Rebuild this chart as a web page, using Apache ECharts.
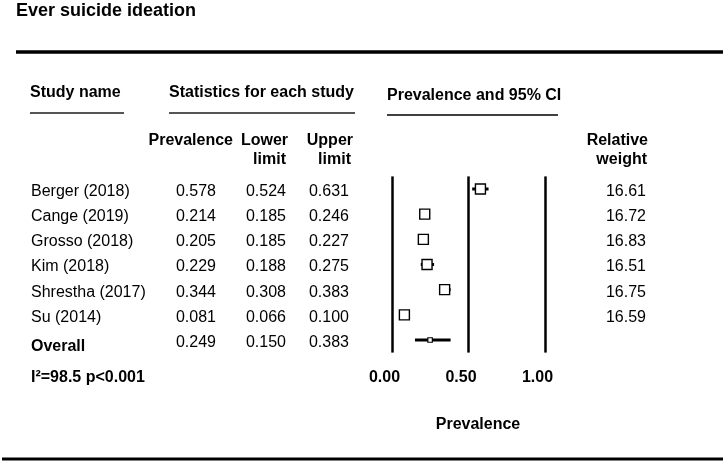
<!DOCTYPE html>
<html>
<head>
<meta charset="utf-8">
<script src="https://cdn.jsdelivr.net/npm/echarts@6/dist/echarts.min.js"></script>
<style>
html,body{margin:0;padding:0;background:#fff;}
#chart{width:723px;height:461px;}
</style>
</head>
<body>
<div id="chart"></div>
<script>
// ---- data ----
var studies = ['Berger (2018)', 'Cange (2019)', 'Grosso (2018)', 'Kim (2018)', 'Shrestha (2017)', 'Su (2014)', 'Overall'];
var prevalence = [0.578, 0.214, 0.205, 0.229, 0.344, 0.081, 0.249];
var lowerLimit = [0.524, 0.185, 0.185, 0.188, 0.308, 0.066, 0.150];
var upperLimit = [0.631, 0.246, 0.227, 0.275, 0.383, 0.100, 0.383];
var relWeight = ['16.61', '16.72', '16.83', '16.51', '16.75', '16.59', ''];
var xTicks = [0, 0.5, 1];
var heterogeneity = 'I\u00B2=98.5 p<0.001';

var FONT = 'Liberation Sans, Arial, Helvetica, sans-serif';
var chart = echarts.init(document.getElementById('chart'), null, {renderer: 'canvas'});

var GL = 392, GR = 545, GT = 176.4, GH = 176.2;
var W = 723;

function fmt3(v){ return v.toFixed(3); }

function colAxis(values, position, offset, align, boldLast) {
  return {
    type: 'category',
    data: studies,
    inverse: true,
    position: position,
    offset: offset,
    axisLine: {show: false},
    axisTick: {show: false},
    splitLine: {show: false},
    axisLabel: {
      margin: 0,
      align: align,
      padding: [5, 0, 0, 0],
      fontFamily: FONT,
      fontSize: 16,
      color: '#000',
      formatter: function (v, i) {
        var s = values[i];
        if (boldLast && i === studies.length - 1) return '{b|' + s + '}';
        return s;
      },
      rich: {
        b: {fontWeight: 'bold', fontFamily: FONT, fontSize: 16, color: '#000', padding: [9, 0, 0, 0]}
      }
    }
  };
}

var option = {
  animation: false,
  backgroundColor: '#fff',
  grid: {left: GL, top: GT, width: GR - GL, height: GH, containLabel: false},
  xAxis: {
    type: 'value',
    min: 0, max: 1, interval: 0.5,
    axisLine: {show: false},
    axisTick: {show: false},
    splitLine: {show: true, lineStyle: {color: '#000', width: 2.5}},
    axisLabel: {
      margin: 17,
      fontFamily: FONT, fontSize: 16, fontWeight: 'bold', color: '#000',
      padding: [0, 15, 0, 0],
      formatter: function (v) { return v.toFixed(2); }
    },
    name: 'Prevalence',
    nameLocation: 'middle',
    nameGap: 64,
    nameTextStyle: {fontFamily: FONT, fontSize: 16, fontWeight: 'bold', color: '#000', padding: [0, 0, 0, 19]}
  },
  yAxis: [
    {
      type: 'category', data: studies, inverse: true,
      axisLine: {show: false}, axisTick: {show: false}, axisLabel: {show: false}, splitLine: {show: false}
    },
    colAxis(studies, 'left', GL - 31, 'left', true),
    colAxis(prevalence.map(fmt3), 'left', GL - 216, 'right', false),
    colAxis(lowerLimit.map(fmt3), 'left', GL - 286, 'right', false),
    colAxis(upperLimit.map(fmt3), 'left', GL - 349, 'right', false),
    colAxis(relWeight, 'right', 646 - GR, 'right', false)
  ],
  series: [{
    type: 'custom',
    xAxisIndex: 0,
    yAxisIndex: 0,
    data: studies.map(function (s, i) { return [prevalence[i], lowerLimit[i], upperLimit[i], i]; }),
    encode: {x: [0, 1, 2], y: 3},
    renderItem: function (params, api) {
      var i = api.value(3);
      var c = api.coord([api.value(0), i]);
      var lo = api.coord([api.value(1), i]);
      var hi = api.coord([api.value(2), i]);
      var isOverall = (i === studies.length - 1);
      var sz = isOverall ? 4.5 : 10;
      return {
        type: 'group',
        children: [
          {type: 'line', shape: {x1: lo[0], y1: c[1], x2: hi[0], y2: c[1]},
           style: {stroke: '#000', lineWidth: 3}},
          {type: 'rect', shape: {x: c[0] - sz / 2, y: c[1] - sz / 2, width: sz, height: sz},
           style: {fill: '#fff', stroke: '#000', lineWidth: isOverall ? 1.2 : 1.4}}
        ]
      };
    }
  }],
  graphic: [
    {type: 'text', left: 16, top: 2, style: {text: 'Ever suicide ideation', font: 'bold 18px ' + FONT, fill: '#000'}},
    {type: 'line', shape: {x1: 16, y1: 52, x2: W, y2: 52}, style: {stroke: '#000', lineWidth: 3.5}},
    {type: 'text', left: 30, top: 85, style: {text: 'Study name', font: 'bold 16px ' + FONT, fill: '#000'}},
    {type: 'line', shape: {x1: 30, y1: 113, x2: 124, y2: 113}, style: {stroke: '#555', lineWidth: 2}},
    {type: 'text', left: 169, top: 85, style: {text: 'Statistics for each study', font: 'bold 16px ' + FONT, fill: '#000'}},
    {type: 'line', shape: {x1: 169, y1: 113, x2: 355, y2: 113}, style: {stroke: '#555', lineWidth: 2}},
    {type: 'text', left: 387, top: 88, style: {text: 'Prevalence and 95% CI', font: 'bold 16px ' + FONT, fill: '#000'}},
    {type: 'line', shape: {x1: 387, y1: 115, x2: 558, y2: 115}, style: {stroke: '#000', lineWidth: 1.5}},
    {type: 'text', x: 233, y: 141, style: {text: 'Prevalence', font: 'bold 16px ' + FONT, fill: '#000', align: 'right', verticalAlign: 'middle'}},
    {type: 'text', x: 288, y: 141, style: {text: 'Lower', font: 'bold 16px ' + FONT, fill: '#000', align: 'right', verticalAlign: 'middle'}},
    {type: 'text', x: 286, y: 160, style: {text: 'limit', font: 'bold 16px ' + FONT, fill: '#000', align: 'right', verticalAlign: 'middle'}},
    {type: 'text', x: 353, y: 141, style: {text: 'Upper', font: 'bold 16px ' + FONT, fill: '#000', align: 'right', verticalAlign: 'middle'}},
    {type: 'text', x: 351, y: 160, style: {text: 'limit', font: 'bold 16px ' + FONT, fill: '#000', align: 'right', verticalAlign: 'middle'}},
    {type: 'text', x: 648, y: 141, style: {text: 'Relative', font: 'bold 16px ' + FONT, fill: '#000', align: 'right', verticalAlign: 'middle'}},
    {type: 'text', x: 647, y: 160, style: {text: 'weight', font: 'bold 16px ' + FONT, fill: '#000', align: 'right', verticalAlign: 'middle'}},
    {type: 'text', x: 31, y: 378, style: {text: heterogeneity, font: 'bold 16px ' + FONT, fill: '#000', verticalAlign: 'middle'}},
    {type: 'line', shape: {x1: 2, y1: 459, x2: W, y2: 459}, style: {stroke: '#000', lineWidth: 3}}
  ]
};
chart.setOption(option);
</script>
</body>
</html>
